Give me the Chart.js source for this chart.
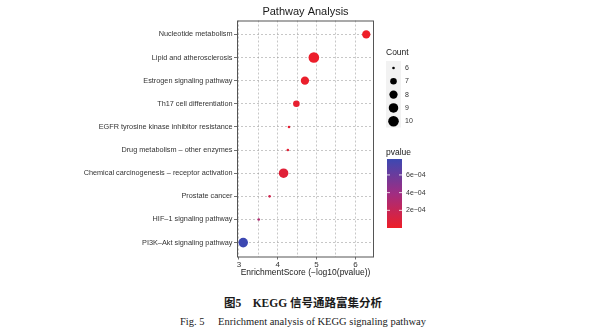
<!DOCTYPE html>
<html>
<head>
<meta charset="utf-8">
<script src="https://cdn.jsdelivr.net/npm/chart.js@4.4.1/dist/chart.umd.min.js"></script>
<style>
body { margin: 0; background: #fff; width: 606px; height: 332px; overflow: hidden; position: relative; }
#wrap { position: absolute; left: 0; top: 0; width: 606px; height: 285px; }
.cap { position: absolute; left: 0; width: 606px; text-align: center; color: #1a1a1a; white-space: pre; line-height: 1; }
#cap1 { top: 294px; font: bold 11.5px 'Liberation Serif', 'Noto Sans CJK SC', serif; }
#cap2 { top: 315px; font: 10.5px 'Liberation Serif', serif; }
</style>
</head>
<body>
<div id="wrap"><canvas id="chart" width="606" height="285"></canvas></div>
<div class="cap" id="cap1">图5　KEGG 信号通路富集分析</div>
<div class="cap" id="cap2">Fig. 5　 Enrichment analysis of KEGG signaling pathway</div>
<script>
const pathways = [
    'Nucleotide metabolism',
    'Lipid and atherosclerosis',
    'Estrogen signaling pathway',
    'Th17 cell differentiation',
    'EGFR tyrosine kinase inhibitor resistance',
    'Drug metabolism \u2013 other enzymes',
    'Chemical carcinogenesis \u2013 receptor activation',
    'Prostate cancer',
    'HIF\u20131 signaling pathway',
    'PI3K\u2013Akt signaling pathway'
];
const enrichScore = [6.28, 4.93, 4.70, 4.48, 4.29, 4.26, 4.15, 3.79, 3.51, 3.11];
const counts = [8, 10, 8, 7, 6, 6, 9, 6, 6, 9];
const pvalues = [5.2e-7, 1.2e-5, 2.0e-5, 3.3e-5, 5.1e-5, 5.5e-5, 7.1e-5, 1.6e-4, 3.1e-4, 7.8e-4];

const xTicks = [3, 3.5, 4, 4.5, 5, 5.5, 6];
const countBreaks = [6, 7, 8, 9, 10];
const pBreaks = [2e-4, 4e-4, 6e-4];
const pBreakLabels = ['2e\u221204', '4e\u221204', '6e\u221204'];

const FONT = "'Liberation Sans', Arial, sans-serif";
const lowCol = [238, 30, 40];
const midCol = [160, 45, 130];
const highCol = [60, 72, 178];
const pMin = Math.min(...pvalues), pMax = Math.max(...pvalues);

const mix = (a, b, t) => a.map((v, k) => Math.round(v + (b[k] - v) * t));
const colorOf = (p) => {
    const t = Math.max(0, Math.min(1, (p - pMin) / (pMax - pMin)));
    const c = t < 0.5 ? mix(lowCol, midCol, t * 2) : mix(midCol, highCol, (t - 0.5) * 2);
    return `rgb(${c[0]},${c[1]},${c[2]})`;
};
const sizeOf = (n) => 1.3 + 4 * Math.sqrt((n - 6) / 4);

const panelBorder = {
    id: 'panelBorder',
    afterDraw(chart) {
        const {ctx, chartArea: a} = chart;
        ctx.save();
        ctx.strokeStyle = '#555';
        ctx.lineWidth = 1;
        ctx.strokeRect(a.left + 0.5, a.top + 0.5, a.right - a.left - 1, a.bottom - a.top);
        ctx.restore();
    }
};

// ggplot style legends on the right
const legends = {
    id: 'legends',
    afterDraw(chart) {
        const ctx = chart.ctx;
        ctx.save();
        ctx.textBaseline = 'middle';
        ctx.textAlign = 'left';

        // Count
        ctx.fillStyle = '#1a1a1a';
        ctx.font = `8.5px ${FONT}`;
        ctx.fillText('Count', 386, 53);
        ctx.fillStyle = '#f2f2f2';
        ctx.fillRect(386, 61, 15, countBreaks.length * 13.3);
        countBreaks.forEach((n, i) => {
            const y = 68 + i * 13.3;
            ctx.fillStyle = '#000';
            ctx.beginPath();
            ctx.arc(393.5, y, sizeOf(n), 0, Math.PI * 2);
            ctx.fill();
            ctx.fillStyle = '#333';
            ctx.font = `7px ${FONT}`;
            ctx.fillText(String(n), 405, y);
        });

        // pvalue colour bar
        ctx.fillStyle = '#1a1a1a';
        ctx.font = `8.5px ${FONT}`;
        ctx.fillText('pvalue', 386, 153);
        const top = 159, bot = 228, x0 = 387, w = 15;
        const grad = ctx.createLinearGradient(0, bot, 0, top);
        for (let s = 0; s <= 10; ++s) {
            grad.addColorStop(s / 10, colorOf(pMin + (pMax - pMin) * s / 10));
        }
        ctx.fillStyle = grad;
        ctx.fillRect(x0, top, w, bot - top);
        const yOf = (p) => bot - (p - pMin) / (pMax - pMin) * (bot - top);
        ctx.strokeStyle = '#fff';
        ctx.lineWidth = 0.8;
        pBreaks.forEach((p, i) => {
            const y = yOf(p);
            ctx.beginPath();
            ctx.moveTo(x0, y); ctx.lineTo(x0 + 3, y);
            ctx.moveTo(x0 + w - 3, y); ctx.lineTo(x0 + w, y);
            ctx.stroke();
            ctx.fillStyle = '#333';
            ctx.font = `7px ${FONT}`;
            ctx.fillText(pBreakLabels[i], 406, y);
        });
        ctx.restore();
    }
};

const chart = new Chart(document.getElementById('chart'), {
    type: 'scatter',
    data: {
        datasets: [{
            data: pathways.map((p, i) => ({x: enrichScore[i], y: i})),
            pointRadius: (c) => sizeOf(counts[c.dataIndex]),
            pointHoverRadius: (c) => sizeOf(counts[c.dataIndex]),
            backgroundColor: (c) => colorOf(pvalues[c.dataIndex]),
            borderWidth: 0
        }]
    },
    options: {
        responsive: false,
        animation: false,
        devicePixelRatio: 1,
        layout: { padding: { left: 0, right: 232, top: 0, bottom: 0 } },
        scales: {
            x: {
                type: 'linear',
                min: 2.95,
                max: 6.48,
                afterBuildTicks: (s) => { s.ticks = xTicks.map(v => ({value: v})); },
                afterFit: (s) => { s.height = 28.5; },
                ticks: {
                    callback: (v) => Number.isInteger(v) ? String(v) : '',
                    font: { family: FONT, size: 8 },
                    color: '#333',
                    padding: 0,
                    maxRotation: 0,
                    autoSkip: false
                },
                grid: {
                    color: 'rgba(150,150,150,0.75)',
                    lineWidth: 0.7,
                    tickLength: 3,
                    tickColor: (c) => (c.tick && Number.isInteger(c.tick.value)) ? '#333' : 'rgba(0,0,0,0)',
                    tickBorderDash: []
                },
                border: { display: false, dash: [2, 2] },
                title: {
                    display: true,
                    text: 'EnrichmentScore (\u2212log10(pvalue))',
                    font: { family: FONT, size: 8.5 },
                    color: '#1a1a1a',
                    padding: { top: 0, bottom: 7.5 }
                }
            },
            y: {
                type: 'linear',
                reverse: true,
                min: -0.6,
                max: 9.6,
                afterBuildTicks: (s) => { s.ticks = pathways.map((p, i) => ({value: i})); },
                afterFit: (s) => { s.width = 237; },
                ticks: {
                    callback: (v) => pathways[v] || '',
                    font: { family: FONT, size: 7.3 },
                    color: '#333',
                    padding: 1.5,
                    autoSkip: false
                },
                grid: {
                    color: 'rgba(150,150,150,0.75)',
                    lineWidth: 0.7,
                    tickLength: 3,
                    tickColor: '#333',
                    tickBorderDash: []
                },
                border: { display: false, dash: [2, 2] }
            }
        },
        plugins: {
            legend: { display: false },
            tooltip: { enabled: false },
            title: {
                display: true,
                text: 'Pathway Analysis',
                fullSize: false,
                color: '#1a1a1a',
                font: { family: FONT, size: 11, weight: 'normal' },
                padding: { top: 5, bottom: 2.3 }
            }
        }
    },
    plugins: [panelBorder, legends]
});
</script>
</body>
</html>
